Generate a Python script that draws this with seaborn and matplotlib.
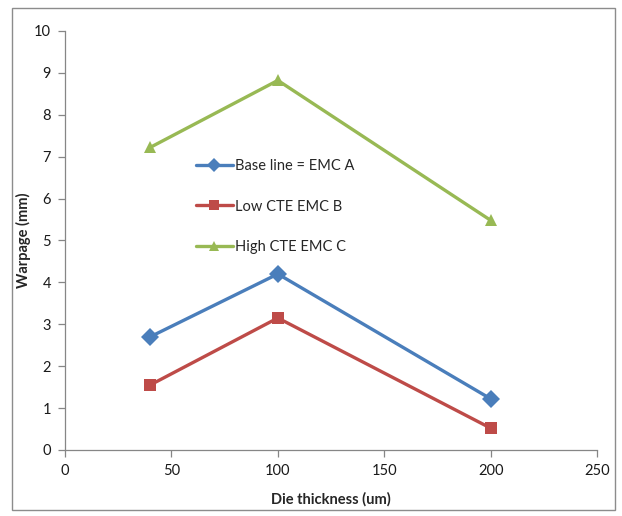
import pandas as pd
import matplotlib.pyplot as plt
import matplotlib.patches as mpatches
import seaborn as sns

# data
thickness = [40, 100, 200]
base_line = [2.70, 4.20, 1.22]
low_cte = [1.55, 3.15, 0.52]
high_cte = [7.22, 8.82, 5.48]
series_names = ["Base line = EMC A", "Low CTE EMC B", "High CTE EMC C"]

df = pd.DataFrame({
    "thickness": thickness * 3,
    "warpage": base_line + low_cte + high_cte,
    "series": [n for n in series_names for _ in thickness],
})

sns.set_style("white")
plt.rcParams["font.family"] = ["Lato", "DejaVu Sans"]

palette = {series_names[0]: "#4A7EBB", series_names[1]: "#BE4B48", series_names[2]: "#98B954"}
markers = {series_names[0]: "D", series_names[1]: "s", series_names[2]: "^"}

fig = plt.figure(figsize=(6.22, 5.16), dpi=100)
ax = fig.add_axes([0.1045, 0.128, 0.8555, 0.812])

sns.lineplot(data=df, x="thickness", y="warpage", hue="series", style="series",
             palette=palette, markers=markers, dashes=False, linewidth=2.4,
             markersize=9, markeredgewidth=0, ax=ax)

ax.set_xlim(0, 250)
ax.set_ylim(0, 10)
ax.set_xticks(range(0, 251, 50))
ax.set_yticks(range(0, 11))
ax.set_xlabel("Die thickness (um)", fontsize=10.5, fontweight="bold", labelpad=10)
ax.set_ylabel("Warpage (mm)", fontsize=10.5, fontweight="bold", labelpad=2)

for side in ["top", "right"]:
    ax.spines[side].set_visible(False)
for side in ["left", "bottom"]:
    ax.spines[side].set_color("#868686")
    ax.spines[side].set_linewidth(0.9)
ax.tick_params(axis="both", direction="out", length=5, width=0.9, color="#868686",
               labelsize=10.5, labelcolor="#1a1a1a", pad=5)
ax.tick_params(axis="y", left=True)
ax.tick_params(axis="x", bottom=True)

leg = ax.legend(loc="upper left", bbox_to_anchor=(0.222, 0.725), frameon=False,
                fontsize=10.5, labelspacing=1.8, handlelength=2.5, handletextpad=0.15)
for h in leg.legend_handles:
    h.set_markersize(7)

# outer chart border like the Excel chart area
fig.add_artist(mpatches.Rectangle((0.02, 0.012), 0.968, 0.972, transform=fig.transFigure,
                                  fill=False, edgecolor="#8C8C8C", linewidth=1.0))

fig.savefig("out.png", dpi=100)
